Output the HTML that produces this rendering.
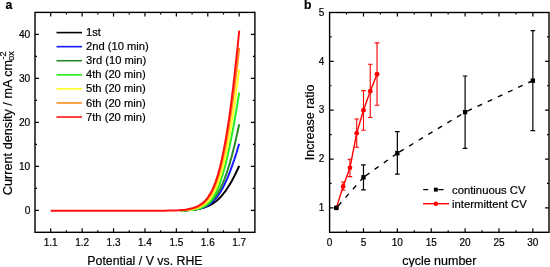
<!DOCTYPE html><html><head><meta charset="utf-8"><style>html,body{margin:0;padding:0;background:#fff;}svg{display:block}text{font-family:"Liberation Sans",sans-serif;fill:#000;stroke:#000;stroke-width:0.2px}svg{will-change:transform}</style></head><body>
<svg width="550" height="267" viewBox="0 0 550 267">
<path d="M179.8,210.5 L182.0,210.4 L184.3,210.4 L186.5,210.2 L188.7,210.1 L191.0,209.9 L193.3,209.7 L195.6,209.4 L197.9,209.0 L200.2,208.6 L202.5,208.0 L204.9,207.3 L207.3,206.4 L208.0,206.1 L208.6,205.8 L209.2,205.5 L209.9,205.2 L210.6,204.9 L211.2,204.5 L211.9,204.1 L212.5,203.7 L213.2,203.3 L213.9,202.8 L214.6,202.3 L215.3,201.8 L216.0,201.3 L216.7,200.7 L217.4,200.1 L218.1,199.4 L218.9,198.7 L219.6,197.9 L220.4,197.2 L221.2,196.3 L221.9,195.4 L222.7,194.5 L223.5,193.5 L224.4,192.4 L225.2,191.3 L226.1,190.1 L226.9,188.8 L227.8,187.5 L228.7,186.0 L229.7,184.5 L230.6,182.9 L231.6,181.2 L232.6,179.4 L233.6,177.5 L234.7,175.4 L235.8,173.2 L236.9,170.9 L238.0,168.5 L239.2,165.9" fill="none" stroke="#000000" stroke-width="2.0" stroke-linejoin="round"/>
<path d="M180.2,210.6 L182.1,210.5 L184.0,210.4 L186.0,210.4 L187.9,210.2 L189.8,210.1 L191.8,209.9 L193.8,209.7 L195.7,209.4 L197.7,209.0 L199.7,208.6 L201.7,208.0 L203.8,207.3 L205.8,206.4 L206.5,206.1 L207.1,205.7 L207.8,205.4 L208.4,205.0 L209.1,204.6 L209.7,204.1 L210.4,203.6 L211.1,203.1 L211.7,202.6 L212.4,202.0 L213.1,201.3 L213.8,200.6 L214.5,199.9 L215.2,199.1 L216.0,198.3 L216.7,197.3 L217.4,196.4 L218.2,195.3 L219.0,194.2 L219.8,193.0 L220.6,191.7 L221.4,190.3 L222.2,188.9 L223.1,187.3 L223.9,185.6 L224.8,183.7 L225.7,181.8 L226.7,179.7 L227.7,177.4 L228.6,175.0 L229.7,172.4 L230.7,169.7 L231.8,166.7 L232.9,163.5 L234.1,160.1 L235.3,156.4 L236.6,152.5 L237.8,148.2 L239.2,143.7" fill="none" stroke="#1a1aff" stroke-width="2.0" stroke-linejoin="round"/>
<path d="M181.0,210.4 L183.1,210.4 L185.2,210.2 L187.2,210.1 L189.3,209.9 L191.4,209.7 L193.4,209.4 L195.5,209.0 L197.6,208.6 L199.7,208.0 L201.9,207.3 L204.0,206.4 L204.7,206.1 L205.4,205.7 L206.2,205.3 L206.9,204.8 L207.6,204.4 L208.3,203.8 L209.1,203.3 L209.8,202.7 L210.6,202.1 L211.3,201.4 L212.1,200.6 L212.9,199.8 L213.6,198.9 L214.4,198.0 L215.2,197.0 L216.0,195.9 L216.8,194.7 L217.6,193.4 L218.4,192.0 L219.3,190.5 L220.1,188.9 L221.0,187.2 L221.9,185.3 L222.8,183.3 L223.7,181.1 L224.6,178.8 L225.5,176.2 L226.5,173.5 L227.5,170.5 L228.5,167.3 L229.6,163.9 L230.6,160.1 L231.8,156.1 L232.9,151.8 L234.1,147.1 L235.3,142.0 L236.5,136.6 L237.8,130.7 L239.2,124.3" fill="none" stroke="#2a8a2a" stroke-width="2.0" stroke-linejoin="round"/>
<path d="M180.4,210.6 L182.1,210.6 L183.8,210.5 L185.5,210.4 L187.2,210.4 L188.9,210.2 L190.5,210.1 L192.2,209.9 L193.9,209.7 L195.6,209.4 L197.3,209.0 L199.1,208.6 L200.8,208.0 L202.5,207.3 L204.3,206.4 L204.9,206.0 L205.6,205.6 L206.3,205.1 L206.9,204.6 L207.6,204.1 L208.3,203.5 L208.9,202.9 L209.6,202.2 L210.3,201.4 L211.0,200.6 L211.7,199.7 L212.4,198.7 L213.1,197.6 L213.8,196.5 L214.6,195.2 L215.3,193.8 L216.1,192.3 L216.9,190.7 L217.6,188.9 L218.4,187.0 L219.3,184.9 L220.1,182.6 L220.9,180.2 L221.8,177.5 L222.7,174.5 L223.6,171.3 L224.6,167.8 L225.6,164.1 L226.6,159.9 L227.6,155.5 L228.7,150.6 L229.8,145.3 L231.0,139.5 L232.2,133.2 L233.5,126.4 L234.8,119.0 L236.2,110.9 L237.7,102.1 L239.2,92.5" fill="none" stroke="#22ee22" stroke-width="2.0" stroke-linejoin="round"/>
<path d="M180.6,210.4 L182.5,210.4 L184.3,210.2 L186.2,210.1 L188.1,209.9 L190.0,209.7 L191.8,209.4 L193.7,209.0 L195.6,208.6 L197.5,208.0 L199.4,207.3 L201.4,206.4 L202.1,206.0 L202.9,205.5 L203.6,205.1 L204.4,204.5 L205.2,203.9 L205.9,203.3 L206.7,202.6 L207.5,201.8 L208.2,201.0 L209.0,200.1 L209.8,199.1 L210.6,198.0 L211.4,196.8 L212.2,195.5 L213.1,194.1 L213.9,192.6 L214.7,190.9 L215.6,189.0 L216.5,187.0 L217.3,184.8 L218.2,182.3 L219.1,179.7 L220.1,176.8 L221.0,173.6 L222.0,170.2 L223.0,166.4 L224.0,162.3 L225.0,157.7 L226.1,152.8 L227.2,147.4 L228.3,141.5 L229.5,135.1 L230.7,128.0 L232.0,120.3 L233.3,111.9 L234.7,102.7 L236.1,92.7 L237.6,81.7 L239.2,69.7" fill="none" stroke="#ffff22" stroke-width="2.0" stroke-linejoin="round"/>
<path d="M180.8,210.2 L182.8,210.1 L184.8,209.9 L186.8,209.7 L188.8,209.4 L190.8,209.0 L192.8,208.6 L194.8,208.0 L196.8,207.3 L198.8,206.4 L199.7,206.0 L200.5,205.5 L201.3,205.0 L202.1,204.4 L203.0,203.8 L203.8,203.1 L204.7,202.4 L205.5,201.6 L206.3,200.7 L207.2,199.7 L208.1,198.6 L208.9,197.4 L209.8,196.1 L210.7,194.7 L211.6,193.2 L212.5,191.4 L213.4,189.6 L214.3,187.5 L215.2,185.3 L216.2,182.8 L217.1,180.1 L218.1,177.1 L219.1,173.8 L220.1,170.2 L221.1,166.3 L222.2,162.0 L223.2,157.2 L224.3,152.0 L225.5,146.3 L226.6,140.1 L227.8,133.2 L229.1,125.7 L230.3,117.4 L231.7,108.3 L233.1,98.4 L234.5,87.5 L236.0,75.5 L237.6,62.4 L239.2,48.0" fill="none" stroke="#ff8c1a" stroke-width="2.0" stroke-linejoin="round"/>
<path d="M50.7,210.8 L146.9,210.8 L149.0,210.8 L151.1,210.8 L153.2,210.8 L155.3,210.8 L157.3,210.7 L159.4,210.7 L161.5,210.7 L163.6,210.7 L165.7,210.7 L167.8,210.6 L169.9,210.6 L172.0,210.5 L174.1,210.4 L176.2,210.4 L178.3,210.2 L180.4,210.1 L182.5,209.9 L184.6,209.7 L186.7,209.4 L188.8,209.0 L190.9,208.6 L193.0,208.0 L195.2,207.3 L197.3,206.4 L198.2,206.0 L199.1,205.5 L199.9,204.9 L200.8,204.4 L201.7,203.7 L202.6,203.0 L203.5,202.2 L204.4,201.4 L205.4,200.4 L206.3,199.4 L207.2,198.3 L208.1,197.0 L209.0,195.6 L210.0,194.1 L210.9,192.5 L211.9,190.6 L212.8,188.6 L213.8,186.4 L214.8,184.0 L215.8,181.3 L216.8,178.3 L217.8,175.1 L218.8,171.5 L219.9,167.6 L220.9,163.3 L222.0,158.5 L223.1,153.3 L224.2,147.6 L225.4,141.2 L226.6,134.3 L227.8,126.7 L229.1,118.3 L230.4,109.0 L231.7,98.8 L233.1,87.7 L234.5,75.4 L236.0,61.8 L237.6,47.0 L239.2,30.6" fill="none" stroke="#ff1111" stroke-width="2.0" stroke-linejoin="round"/>
<rect x="35.0" y="12.4" width="219.90" height="219.90" fill="none" stroke="#000" stroke-width="1.4"/>
<path d="M50.71,232.3v-4M50.71,12.4v4M66.41,232.3v-2M66.41,12.4v2M82.12,232.3v-4M82.12,12.4v4M97.83,232.3v-2M97.83,12.4v2M113.54,232.3v-4M113.54,12.4v4M129.24,232.3v-2M129.24,12.4v2M144.95,232.3v-4M144.95,12.4v4M160.66,232.3v-2M160.66,12.4v2M176.36,232.3v-4M176.36,12.4v4M192.07,232.3v-2M192.07,12.4v2M207.78,232.3v-4M207.78,12.4v4M223.49,232.3v-2M223.49,12.4v2M239.19,232.3v-4M239.19,12.4v4M35.0,210.31h4M254.9,210.31h-4M35.0,188.32h2M254.9,188.32h-2M35.0,166.33h4M254.9,166.33h-4M35.0,144.34h2M254.9,144.34h-2M35.0,122.35h4M254.9,122.35h-4M35.0,100.36h2M254.9,100.36h-2M35.0,78.37h4M254.9,78.37h-4M35.0,56.38h2M254.9,56.38h-2M35.0,34.39h4M254.9,34.39h-4" stroke="#000" stroke-width="1.2" fill="none"/>
<text x="50.71" y="245.6" font-size="10" text-anchor="middle">1.1</text>
<text x="82.12" y="245.6" font-size="10" text-anchor="middle">1.2</text>
<text x="113.54" y="245.6" font-size="10" text-anchor="middle">1.3</text>
<text x="144.95" y="245.6" font-size="10" text-anchor="middle">1.4</text>
<text x="176.36" y="245.6" font-size="10" text-anchor="middle">1.5</text>
<text x="207.78" y="245.6" font-size="10" text-anchor="middle">1.6</text>
<text x="239.19" y="245.6" font-size="10" text-anchor="middle">1.7</text>
<text x="30.3" y="214.01" font-size="10.2" text-anchor="end">0</text>
<text x="30.3" y="170.03" font-size="10.2" text-anchor="end">10</text>
<text x="30.3" y="126.05" font-size="10.2" text-anchor="end">20</text>
<text x="30.3" y="82.07" font-size="10.2" text-anchor="end">30</text>
<text x="30.3" y="38.09" font-size="10.2" text-anchor="end">40</text>
<text x="144.95" y="264.9" font-size="12.35" text-anchor="middle">Potential / V vs. RHE</text>
<text transform="translate(11.8,195.2) rotate(-90)" font-size="12.7">Current density / mA cm<tspan dy="-6" dx="0.3" font-size="9">-2</tspan><tspan dy="8.5" dx="-9.3" font-size="9">ox</tspan></text>
<text x="5.4" y="9" font-size="12.2" font-weight="bold">a</text>
<path d="M56.5,32.60H82" stroke="#000000" stroke-width="1.6"/>
<text x="86" y="36.20" font-size="11.2">1st</text>
<path d="M56.5,46.67H82" stroke="#1a1aff" stroke-width="1.6"/>
<text x="86" y="50.27" font-size="11.2">2nd (10 min)</text>
<path d="M56.5,60.74H82" stroke="#2a8a2a" stroke-width="1.6"/>
<text x="86" y="64.34" font-size="11.2">3rd (10 min)</text>
<path d="M56.5,74.81H82" stroke="#22ee22" stroke-width="1.6"/>
<text x="86" y="78.41" font-size="11.2">4th (20 min)</text>
<path d="M56.5,88.88H82" stroke="#ffff22" stroke-width="1.6"/>
<text x="86" y="92.48" font-size="11.2">5th (20 min)</text>
<path d="M56.5,102.95H82" stroke="#ff8c1a" stroke-width="1.6"/>
<text x="86" y="106.55" font-size="11.2">6th (20 min)</text>
<path d="M56.5,117.02H82" stroke="#ff1111" stroke-width="1.6"/>
<text x="86" y="120.62" font-size="11.2">7th (20 min)</text>
<rect x="329.6" y="12.5" width="219.40" height="219.80" fill="none" stroke="#000" stroke-width="1.4"/>
<path d="M346.54,232.3v-2M346.54,12.5v2M363.48,232.3v-4M363.48,12.5v4M380.41,232.3v-2M380.41,12.5v2M397.35,232.3v-4M397.35,12.5v4M414.29,232.3v-2M414.29,12.5v2M431.23,232.3v-4M431.23,12.5v4M448.16,232.3v-2M448.16,12.5v2M465.10,232.3v-4M465.10,12.5v4M482.04,232.3v-2M482.04,12.5v2M498.98,232.3v-4M498.98,12.5v4M515.91,232.3v-2M515.91,12.5v2M532.85,232.3v-4M532.85,12.5v4M329.6,207.88h4M549.0,207.88h-4M329.6,183.46h2M549.0,183.46h-2M329.6,159.03h4M549.0,159.03h-4M329.6,134.61h2M549.0,134.61h-2M329.6,110.19h4M549.0,110.19h-4M329.6,85.77h2M549.0,85.77h-2M329.6,61.34h4M549.0,61.34h-4M329.6,36.92h2M549.0,36.92h-2" stroke="#000" stroke-width="1.2" fill="none"/>
<text x="329.60" y="245.6" font-size="10" text-anchor="middle">0</text>
<text x="363.48" y="245.6" font-size="10" text-anchor="middle">5</text>
<text x="397.35" y="245.6" font-size="10" text-anchor="middle">10</text>
<text x="431.23" y="245.6" font-size="10" text-anchor="middle">15</text>
<text x="465.10" y="245.6" font-size="10" text-anchor="middle">20</text>
<text x="498.98" y="245.6" font-size="10" text-anchor="middle">25</text>
<text x="532.85" y="245.6" font-size="10" text-anchor="middle">30</text>
<text x="324.4" y="211.08" font-size="10" text-anchor="end">1</text>
<text x="324.4" y="162.23" font-size="10" text-anchor="end">2</text>
<text x="324.4" y="113.39" font-size="10" text-anchor="end">3</text>
<text x="324.4" y="64.54" font-size="10" text-anchor="end">4</text>
<text x="324.4" y="15.70" font-size="10" text-anchor="end">5</text>
<text x="439.30" y="264.8" font-size="12.5" text-anchor="middle">cycle number</text>
<text transform="translate(314,122.4) rotate(-90)" font-size="12.5" text-anchor="middle">Increase ratio</text>
<text x="303.9" y="9" font-size="12.2" font-weight="bold">b</text>
<path d="M336.38,207.88 L343.15,186.39 L349.93,167.83 L356.70,133.15 L363.48,110.19 L370.25,91.14 L377.03,74.24" stroke="#ff0000" stroke-width="1.4" fill="none"/>
<path d="M343.15,190.29V181.99M340.85,190.29h4.6M340.85,181.99h4.6M349.93,176.62V159.28M347.62,176.62h4.6M347.62,159.28h4.6M356.70,147.31V118.98M354.40,147.31h4.6M354.40,118.98h4.6M363.48,130.22V90.65M361.18,130.22h4.6M361.18,90.65h4.6M370.25,117.52V64.28M367.95,117.52h4.6M367.95,64.28h4.6M377.03,105.30V42.88M374.73,105.30h4.6M374.73,42.88h4.6" stroke="#ff0000" stroke-width="1.1" fill="none"/>
<circle cx="336.38" cy="207.88" r="2.4" fill="#ff0000"/>
<circle cx="343.15" cy="186.39" r="2.4" fill="#ff0000"/>
<circle cx="349.93" cy="167.83" r="2.4" fill="#ff0000"/>
<circle cx="356.70" cy="133.15" r="2.4" fill="#ff0000"/>
<circle cx="363.48" cy="110.19" r="2.4" fill="#ff0000"/>
<circle cx="370.25" cy="91.14" r="2.4" fill="#ff0000"/>
<circle cx="377.03" cy="74.24" r="2.4" fill="#ff0000"/>
<path d="M336.38,207.88L363.48,177.30" stroke="#000" stroke-width="1.4" fill="none" stroke-dasharray="5 6.2" stroke-dashoffset="8.7"/>
<path d="M363.48,177.30L397.35,153.17" stroke="#000" stroke-width="1.4" fill="none" stroke-dasharray="5 6.2" stroke-dashoffset="8.7"/>
<path d="M397.35,153.17L465.10,112.14" stroke="#000" stroke-width="1.4" fill="none" stroke-dasharray="5 6.2" stroke-dashoffset="8.7"/>
<path d="M465.10,112.14L532.85,80.64" stroke="#000" stroke-width="1.4" fill="none" stroke-dasharray="5 6.2" stroke-dashoffset="8.7"/>
<path d="M363.48,189.81V164.89M361.18,189.81h4.6M361.18,164.89h4.6M397.35,174.18V131.68M395.05,174.18h4.6M395.05,131.68h4.6M465.10,148.43V76.00M462.80,148.43h4.6M462.80,76.00h4.6M532.85,130.70V30.57M530.55,130.70h4.6M530.55,30.57h4.6" stroke="#000" stroke-width="1.2" fill="none"/>
<rect x="334.18" y="205.68" width="4.4" height="4.4" fill="#000"/>
<rect x="361.28" y="175.10" width="4.4" height="4.4" fill="#000"/>
<rect x="395.15" y="150.97" width="4.4" height="4.4" fill="#000"/>
<rect x="462.90" y="109.94" width="4.4" height="4.4" fill="#000"/>
<rect x="530.65" y="78.44" width="4.4" height="4.4" fill="#000"/>
<path d="M423.2,189.6H428.2M438.3,189.6H443.6" stroke="#000" stroke-width="1.4"/>
<rect x="433.9" y="187.7" width="3.9" height="3.9" fill="#000"/>
<path d="M423,203.7H449" stroke="#ff0000" stroke-width="1.4"/>
<circle cx="435.8" cy="203.7" r="2.2" fill="#ff0000"/>
<text x="452" y="193.6" font-size="11.3">continuous CV</text>
<text x="452" y="207.7" font-size="11.3">intermittent CV</text>
</svg></body></html>
